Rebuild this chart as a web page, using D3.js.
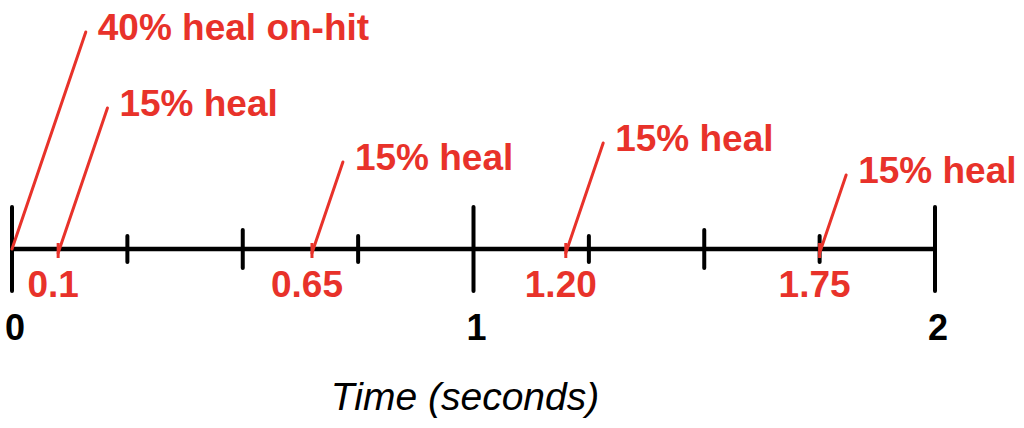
<!DOCTYPE html>
<html>
<head>
<meta charset="utf-8">
<script src="https://cdn.jsdelivr.net/npm/d3@7"></script>
<style>
  html, body { margin: 0; padding: 0; background: #fff; }
  svg { display: block; }
  text { font-family: "Liberation Sans", Arial, Helvetica, sans-serif; }
</style>
</head>
<body>
<div id="container"></div>
<script>
// data
const majorTicks = [0, 1, 2];
const halfTicks = [0.5, 1.5];
const quarterTicks = [0.25, 0.75, 1.25, 1.75];
const healTimes = [0, 0.1, 0.65, 1.2, 1.75];
const healLabels = ['40% heal on-hit', '15% heal', '15% heal', '15% heal', '15% heal'];
const timeLabels = ['', '0.1', '0.65', '1.20', '1.75'];
const axisTitle = 'Time (seconds)';

// layout of the callouts (y of the upper end of each leader line)
const calloutTop = [32, 108, 162, 143, 175];

const w = 1024;
const h = 428;
const axisY = 249;
const red = '#e8322a';

const svg = d3.select('#container')
  .append('svg')
  .attr('width', w)
  .attr('height', h);

const x = d3.scaleLinear()
  .domain([0, 2])
  .range([12, 935]);

// main line
svg.append('line')
  .attr('x1', x(0))
  .attr('x2', x(2))
  .attr('y1', axisY)
  .attr('y2', axisY)
  .attr('stroke', '#000')
  .attr('stroke-width', 4.5);

function ticks(values, half, cls) {
  svg.append('g')
    .attr('class', cls)
    .selectAll('line')
    .data(values)
    .enter()
    .append('line')
    .attr('x1', d => x(d))
    .attr('x2', d => x(d))
    .attr('y1', axisY - half)
    .attr('y2', axisY + half)
    .attr('stroke', '#000')
    .attr('stroke-width', 4)
    .attr('stroke-linecap', 'round');
}
ticks(majorTicks, 42, 'major');
ticks(halfTicks, 19, 'half');
ticks(quarterTicks, 13, 'quarter');

svg.append('g')
  .selectAll('text')
  .data(majorTicks)
  .enter()
  .append('text')
  .attr('x', d => x(d) + 3)
  .attr('y', 340)
  .attr('text-anchor', 'middle')
  .attr('font-size', 36)
  .attr('font-weight', 'bold')
  .attr('fill', '#000')
  .text(d => d);

// heal events
const events = healTimes.map((t, i) => ({
  t: t,
  label: healLabels[i],
  time: timeLabels[i],
  top: calloutTop[i]
}));

const ev = svg.append('g')
  .attr('class', 'events')
  .selectAll('g')
  .data(events)
  .enter()
  .append('g');

ev.filter(d => d.t > 0)
  .append('line')
  .attr('x1', d => x(d.t))
  .attr('x2', d => x(d.t))
  .attr('y1', axisY - 6)
  .attr('y2', axisY + 9)
  .attr('stroke', red)
  .attr('stroke-width', 3);

const base = d => (d.t > 0 ? axisY + 4 : axisY);
const slope = 0.34;

ev.append('line')
  .attr('x1', d => x(d.t))
  .attr('y1', base)
  .attr('x2', d => x(d.t) + slope * (base(d) - d.top))
  .attr('y2', d => d.top)
  .attr('stroke', red)
  .attr('stroke-width', 3)
  .attr('stroke-linecap', 'round');

ev.append('text')
  .attr('x', d => x(d.t) + slope * (base(d) - d.top) + 12)
  .attr('y', d => d.top + 8)
  .attr('font-size', 37)
  .attr('font-weight', 'bold')
  .attr('fill', red)
  .text(d => d.label);

ev.append('text')
  .attr('x', d => x(d.t) - 5)
  .attr('y', 297)
  .attr('text-anchor', 'middle')
  .attr('font-size', 37)
  .attr('font-weight', 'bold')
  .attr('fill', red)
  .text(d => d.time);

svg.append('text')
  .attr('x', 465)
  .attr('y', 410)
  .attr('text-anchor', 'middle')
  .attr('font-size', 39)
  .attr('font-style', 'italic')
  .attr('fill', '#000')
  .text(axisTitle);
</script>
</body>
</html>
